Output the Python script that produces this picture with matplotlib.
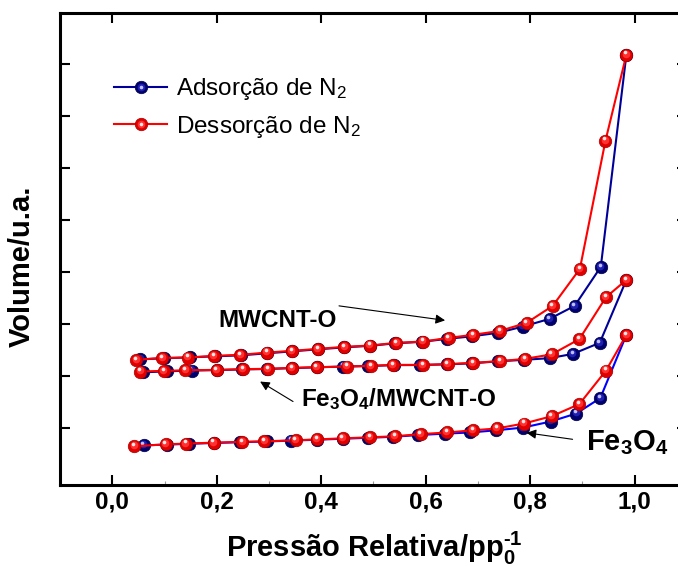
import matplotlib
matplotlib.use("Agg")
import matplotlib.pyplot as plt
from matplotlib.lines import Line2D
from matplotlib.legend_handler import HandlerTuple
from matplotlib.ticker import MultipleLocator, FixedLocator
from matplotlib.transforms import offset_copy

plt.rcParams["font.family"] = ["Liberation Sans", "DejaVu Sans"]
plt.rcParams["mathtext.fontset"] = "custom"
plt.rcParams["mathtext.rm"] = "Liberation Sans"
plt.rcParams["mathtext.bf"] = "Liberation Sans:bold"
plt.rcParams["mathtext.it"] = "Liberation Sans:italic"

# MWCNT-O
mw_des_x = [0.046, 0.096, 0.145, 0.195, 0.245, 0.296, 0.344, 0.394, 0.444, 0.493, 0.544, 0.595, 0.644, 0.690, 0.742, 0.793, 0.843, 0.895, 0.944, 0.984]
mw_des_v = [230.8, 234.6, 235.2, 238.5, 240.4, 244.8, 248.1, 251.9, 255.8, 258.3, 263.5, 266.0, 273.1, 278.8, 286.5, 301.9, 334.6, 405.8, 652.5, 817.9]
mw_ads_x = [0.054, 0.099, 0.149, 0.197, 0.246, 0.296, 0.344, 0.394, 0.444, 0.493, 0.541, 0.592, 0.641, 0.688, 0.738, 0.786, 0.837, 0.885, 0.935, 0.984]
mw_ads_v = [231.7, 233.7, 235.6, 237.5, 239.4, 243.3, 247.1, 251.0, 254.8, 257.7, 262.5, 265.4, 271.1, 276.0, 282.7, 294.8, 309.6, 334.6, 409.6, 817.9]
# Fe3O4/MWCNT-O
fm_des_x = [0.054, 0.099, 0.140, 0.200, 0.250, 0.298, 0.344, 0.391, 0.449, 0.495, 0.537, 0.595, 0.642, 0.690, 0.743, 0.790, 0.841, 0.894, 0.945, 0.984]
fm_des_v = [208.3, 209.6, 210.6, 211.5, 212.9, 213.5, 215.4, 216.7, 217.9, 219.2, 221.1, 221.1, 222.5, 225.0, 228.3, 232.7, 241.3, 270.6, 351.3, 384.6]
fm_ads_x = [0.059, 0.105, 0.152, 0.200, 0.248, 0.296, 0.344, 0.391, 0.442, 0.489, 0.539, 0.589, 0.640, 0.688, 0.738, 0.788, 0.837, 0.882, 0.933, 0.984]
fm_ads_v = [206.7, 208.7, 210.2, 211.0, 212.3, 213.1, 214.8, 216.3, 217.9, 218.8, 220.6, 220.8, 222.1, 224.0, 227.9, 230.8, 234.0, 242.3, 263.5, 384.6]
# Fe3O4
fe_des_x = [0.042, 0.102, 0.141, 0.194, 0.249, 0.291, 0.351, 0.392, 0.441, 0.493, 0.541, 0.590, 0.641, 0.690, 0.736, 0.788, 0.841, 0.894, 0.945, 0.984]
fe_des_v = [64.4, 68.3, 69.6, 71.5, 73.1, 74.0, 76.0, 77.7, 79.8, 81.7, 83.8, 87.9, 91.0, 95.2, 98.7, 108.3, 122.3, 145.6, 210.2, 278.8]
fe_ads_x = [0.060, 0.105, 0.146, 0.195, 0.245, 0.296, 0.342, 0.391, 0.441, 0.489, 0.537, 0.585, 0.636, 0.685, 0.734, 0.786, 0.839, 0.888, 0.934, 0.984]
fe_ads_v = [66.3, 67.7, 69.2, 70.8, 72.3, 73.7, 75.4, 77.1, 79.0, 80.8, 82.7, 86.0, 88.8, 91.0, 95.2, 100.4, 112.1, 127.5, 157.1, 278.8]

x_ticks = [0.0, 0.2, 0.4, 0.6, 0.8, 1.0]
x_labels = ["0,0", "0,2", "0,4", "0,6", "0,8", "1,0"]
y_ticks = [100, 200, 300, 400, 500, 600, 700, 800]

RED = dict(face="#e00000", mid="#ff3030", hi="#ffe8e8", edge="#a80000")
BLUE = dict(face="#00006e", mid="#2020b0", hi="#c0c0ff", edge="#000045")

fig = plt.figure(figsize=(6.78, 5.66), dpi=100)
ax = fig.add_axes([60/678, 1-485/566, 627/678, 472/566])

def balls(x, y, c, z):
    ax.plot(x, y, "o", ms=9, mfc=c["face"], mec=c["edge"], mew=0.5, ls="none", zorder=z)
    t1 = offset_copy(ax.transData, fig=fig, x=-0.5, y=0.8, units="points")
    ax.plot(x, y, "o", ms=5.5, mfc=c["mid"], mec="none", ls="none", transform=t1, zorder=z)
    t2 = offset_copy(ax.transData, fig=fig, x=-0.9, y=1.6, units="points")
    ax.plot(x, y, "o", ms=2.6, mfc=c["hi"], mec="none", ls="none", transform=t2, zorder=z)

def series(x, y, line_col, c, z):
    ax.plot(x, y, "-", color=line_col, lw=1.5, zorder=z)
    balls(x, y, c, z)

series(fe_ads_x, fe_ads_v, "#0000ff", BLUE, 3)
series(fm_ads_x, fm_ads_v, "#000099", BLUE, 3)
series(mw_ads_x, mw_ads_v, "#000099", BLUE, 3)
series(fe_des_x, fe_des_v, "#ff0000", RED, 4)
series(fm_des_x, fm_des_v, "#ff0000", RED, 4)
series(mw_des_x, mw_des_v, "#ff0000", RED, 4)

ax.set_xlim(-0.1, 1.1)
ax.set_ylim(-10, 898)
ax.xaxis.set_major_locator(FixedLocator(x_ticks))
ax.set_xticklabels(x_labels, fontsize=17.5, fontweight="bold", family=["Liberation Sans Narrow", "Liberation Sans"])
ax.xaxis.set_minor_locator(MultipleLocator(0.1))
ax.yaxis.set_major_locator(FixedLocator(y_ticks))
ax.set_yticklabels([])
ax.tick_params(which="major", direction="in", length=7, width=1.5, top=True, right=True, pad=4)
ax.tick_params(which="minor", direction="in", length=3, width=0.8, color="#999999", top=False, bottom=True)
for s in ax.spines.values():
    s.set_linewidth(2.2)

fig.text(374/678, 1-548/566, "Pressão Relativa/pp$_\\mathbf{0}^\\mathbf{\u20101}$", fontsize=21, fontweight="bold", ha="center", va="center")
fig.text(22/678, 1-266/566, "Volume/u.a.", fontsize=21, fontweight="bold", rotation=90, ha="center", va="center")

arrow = dict(arrowstyle="-|>", color="black", lw=0.8, mutation_scale=14, shrinkA=0, shrinkB=0)
ax.annotate("", xy=(0.637, 306.7), xytext=(0.434, 334.6), arrowprops=arrow)
ax.annotate("", xy=(0.283, 189.0), xytext=(0.346, 150.6), arrowprops=arrow)
ax.annotate("", xy=(0.793, 90.4), xytext=(0.881, 77.9), arrowprops=arrow)
ax.text(0.203, 294.2, "MWCNT-O", fontsize=17.5, fontweight="bold", va="baseline")
ax.text(0.361, 142.3, r"Fe$_\mathbf{3}$O$_\mathbf{4}$/MWCNT-O", fontsize=17.5, fontweight="bold", va="baseline")
ax.text(0.906, 57.7, r"Fe$_\mathbf{3}$O$_\mathbf{4}$", fontsize=21, fontweight="bold", va="baseline")

def leg_handle(line_col, c):
    base = Line2D([], [], color=line_col, lw=1.5, marker="o", ms=9, mfc=c["face"], mec=c["edge"], mew=0.5)
    mid = Line2D([], [], ls="none", marker="o", ms=5.5, mfc=c["mid"], mec="none")
    hi = Line2D([], [], ls="none", marker="o", ms=2.6, mfc=c["hi"], mec="none")
    return (base, mid, hi)

fig.legend([leg_handle("#000099", BLUE), leg_handle("#ff0000", RED)],
           ["Adsorção de N$_2$", "Dessorção de N$_2$"],
           handler_map={tuple: HandlerTuple(ndivide=1, pad=0)},
           loc="center left", bbox_to_anchor=(114/678, 1-108/566), frameon=False,
           fontsize=17.5, handlelength=2.2, handletextpad=0.35, labelspacing=0.48,
           borderpad=0, borderaxespad=0)

fig.savefig("out.png", dpi=100)
